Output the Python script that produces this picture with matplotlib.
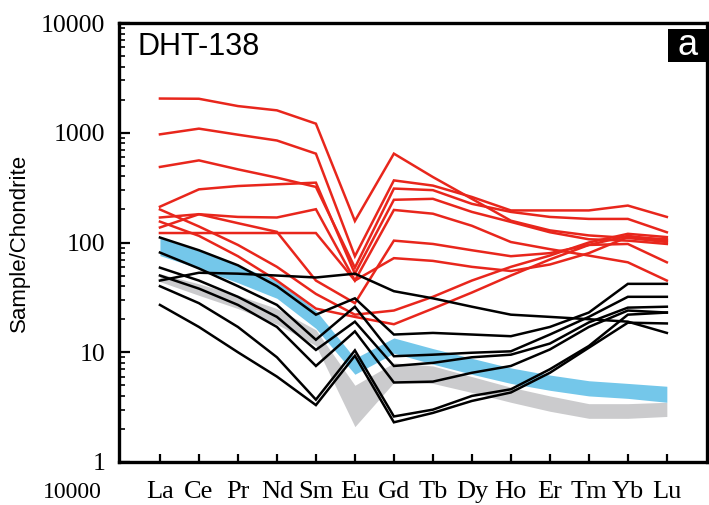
import matplotlib
matplotlib.use("Agg")
import matplotlib.pyplot as plt
import numpy as np
from matplotlib.ticker import FixedLocator, NullFormatter, LogLocator
from matplotlib.patches import Rectangle

elements = ['La', 'Ce', 'Pr', 'Nd', 'Sm', 'Eu', 'Gd', 'Tb', 'Dy', 'Ho', 'Er', 'Tm', 'Yb', 'Lu']

# red sample patterns (Sample/Chondrite)
red_1 = [2050, 2040, 1750, 1600, 1210, 157, 645, 395, 250, 158, 129, 116, 110, 101]
red_2 = [967, 1090, 960, 850, 645, 75, 368, 330, 260, 196, 196, 196, 217, 171]
red_3 = [488, 560, 464, 390, 321, 59, 310, 300, 225, 190, 171, 164, 164, 124]
red_4 = [212, 305, 327, 339, 351, 52, 245, 250, 190, 154, 124, 107, 104, 97]
red_5 = [169, 181, 171, 169, 201, 45, 198, 183, 142, 101, 87, 76, 66, 45]
red_6 = [137, 181, 150, 125, 45, 28, 104, 97, 85, 75, 80, 95, 97, 66]
red_7 = [122, 122, 122, 122, 122, 45, 72, 68, 60, 55, 63, 80, 112, 107]
red_8 = [200, 140, 95, 60, 34, 22, 24, 32, 45, 60, 76, 100, 120, 112]
red_9 = [155, 115, 75, 45, 25, 21, 18, 25, 35, 50, 70, 95, 115, 104]

# black sample patterns
black_1 = [111, 85, 62, 40, 22, 31, 14.5, 15, 14.5, 14, 17, 23, 42, 42]
black_2 = [81, 58, 40, 27, 13, 26, 9.2, 9.5, 9.9, 10.2, 14.5, 21, 32, 32]
black_3 = [45, 53, 52, 50, 48, 52, 36, 31, 26, 22, 21, 20, 19, 15]
black_4 = [59, 45, 32, 21, 10.5, 19, 7.5, 8, 9, 9.5, 12, 18.7, 25.5, 26]
black_5 = [50, 38, 27, 17, 7.5, 15.5, 5.3, 5.4, 6.5, 7.5, 10.6, 17, 24, 23]
black_6 = [40, 28, 17, 9, 3.7, 10.4, 2.6, 3.0, 4.0, 4.6, 7.0, 11.4, 22, 23]
black_7 = [27, 17, 10, 6, 3.3, 9.3, 2.3, 2.8, 3.6, 4.3, 6.5, 11, 18.6, 18.3]

# reference fields
blue_low = [76, 58, 43, 31, 16.5, 6.3, 9.8, 7.8, 6.3, 5.2, 4.5, 4.0, 3.8, 3.5]
blue_high = [110, 84, 62, 45, 24, 8.8, 13.5, 10.8, 8.8, 7.2, 6.2, 5.5, 5.2, 4.9]
gray_low = [44, 33, 25, 18, 11.5, 2.1, 5.3, 5.2, 4.3, 3.5, 2.9, 2.5, 2.5, 2.6]
gray_high = [52, 42, 33, 25, 16, 5.0, 8.0, 7.5, 6.0, 4.8, 4.0, 3.4, 3.4, 3.5]

y_ticks = [1, 10, 100, 1000, 10000]
y_tick_labels = ['1', '10', '100', '1000', '10000']

reds = [red_1, red_2, red_3, red_4, red_5, red_6, red_7, red_8, red_9]
blacks = [black_1, black_2, black_3, black_4, black_5, black_6, black_7]

fig = plt.figure(figsize=(7.09, 5.05), dpi=100)
W, H = 709, 505
ax = fig.add_axes([119 / W, 1 - 462 / H, (707 - 119) / W, (462 - 23) / H])

x = np.arange(len(elements))
ax.fill_between(x, gray_low, gray_high, color='#cbcbcd', lw=0, zorder=1)
ax.fill_between(x, blue_low, blue_high, color='#74c7ea', lw=0, zorder=2)

for r in reds:
    ax.plot(x, r, color='#e8261c', lw=1.8, zorder=3, solid_joinstyle='miter')
for b in blacks:
    ax.plot(x, b, color='black', lw=1.8, zorder=4, solid_joinstyle='miter')

ax.set_yscale('log')
ax.set_ylim(1, 10000)
ax.set_xlim(-1.05, 14.03)

ax.yaxis.set_major_locator(FixedLocator(y_ticks))
ax.set_yticklabels(y_tick_labels, family='Liberation Serif', fontsize=18.5)
ax.yaxis.set_minor_locator(LogLocator(base=10, subs=np.arange(2, 10)))
ax.yaxis.set_minor_formatter(NullFormatter())
ax.tick_params(axis='y', which='major', direction='in', length=8, width=1.6, pad=10)
ax.tick_params(axis='y', which='minor', direction='in', length=4, width=1.2)

ax.set_xticks(x)
ax.set_xticklabels(elements, family='Liberation Serif', fontsize=19)
ax.tick_params(axis='x', which='major', direction='in', length=6, width=1.6, pad=14)
ax.tick_params(axis='x', which='minor', bottom=False)

for s in ax.spines.values():
    s.set_linewidth(2.4)

ax.set_ylabel('Sample/Chondrite', family='Liberation Sans', fontsize=16)
ax.yaxis.set_label_coords((30 - 119) / 588, 0.5)

ax.text(0.031, 0.945, 'DHT-138', transform=ax.transAxes, family='Liberation Sans',
        fontsize=22, ha='left', va='center', zorder=6)
bx0, bx1, by0, by1 = 668, 707, 29, 62
ax.add_patch(Rectangle(((bx0 - 119) / 588, 1 - (by1 - 23) / 439), (bx1 - bx0) / 588,
                       (by1 - by0) / 439, transform=ax.transAxes, facecolor='black',
                       edgecolor='none', zorder=6, clip_on=False))
ax.text(((bx0 + bx1) / 2 - 119) / 588, 1 - ((by0 + by1) / 2 - 23) / 439, 'a',
        transform=ax.transAxes, family='Liberation Sans', fontsize=26, color='white',
        ha='center', va='center', zorder=7)

fig.text(72 / W, 1 - 503 / H, '10000', family='Liberation Serif', fontsize=17,
         ha='center', va='bottom')

fig.savefig('out.png', dpi=100)
